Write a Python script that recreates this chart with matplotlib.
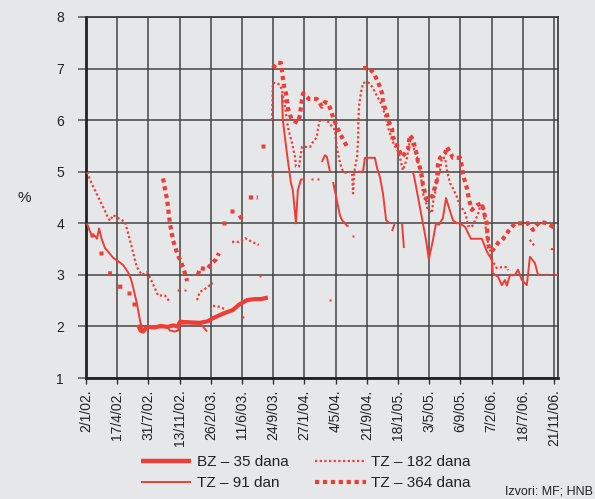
import numpy as np
import matplotlib
matplotlib.use('Agg')
import matplotlib.pyplot as plt
from matplotlib.lines import Line2D

plt.rcParams['font.family'] = ['Liberation Sans', 'DejaVu Sans']

nan = np.nan

tick_labels = ['2/1/02.', '17/4/02.', '31/7/02.', '13/11/02.', '26/2/03.', '11/6/03.',
               '24/9/03.', '27/1/04.', '4/5/04.', '21/9/04.', '18/1/05.', '3/5/05.',
               '6/9/05.', '7/2/06.', '18/7/06.', '21/11/06.']
y_ticks = [1, 2, 3, 4, 5, 6, 7, 8]
series_names = ['BZ \u2013 35 dana', 'TZ \u2013 91 dan', 'TZ \u2013 182 dana', 'TZ \u2013 364 dana']

# x positions are in units of the (equally spaced) label intervals
bz_x = [1.67, 1.75, 1.83, 1.92, 2.00, 2.20, 2.40, 2.60, 2.80, 2.95, 3.01, 3.30, 3.65, 3.90,
        4.07, 4.40, 4.71, 4.90, 5.16, 5.40, 5.60, 5.83]
bz_y = [2.03, 1.92, 1.90, 1.97, 1.99, 1.98, 2.01, 1.99, 2.02, 2.00, 2.09, 2.08, 2.07, 2.10,
        2.16, 2.25, 2.32, 2.42, 2.51, 2.53, 2.53, 2.56]

tz91_x = [0.03, 0.12, 0.19, 0.30, 0.35, 0.42, 0.50, 0.61, 0.71, 0.87,
          1.00, 1.19, 1.35, 1.45, 1.51, 1.63, 1.73, 1.83, 1.95, 2.10,
          2.40, 2.60, 2.69, 2.85, 2.95, 3.01, 3.30, 3.65, 3.75, 3.88, nan,
          6.28, 6.31, 6.44, 6.57, 6.63, 6.73, 6.79, 6.89, 7.02, nan, 7.24, nan, 7.44, nan,
          7.56, 7.66, 7.72, 7.82, nan,
          7.92, 8.04, 8.14, 8.21, 8.37, 8.42, nan,
          8.72, 8.88, 8.94, 9.26, 9.33, 9.42, 9.52, 9.62, 9.74, nan, 9.81, 9.90, nan, 10.13, 10.19, nan,
          10.48, 10.54, 10.80, 10.90, 10.99, 11.12, 11.22, 11.31, 11.44, 11.54,
          11.76, 11.89, 11.99, 12.05, 12.15, 12.34, 12.69,
          12.85, 13.01, 13.04, 13.21, 13.33, 13.43, 13.49, 13.59, 13.75, 13.85,
          13.97, 14.13, 14.23, 14.39, 14.49, 14.62, nan, 14.72, 14.82, nan, 15.00, 15.13]
tz91_y = [4.00, 3.85, 3.77, 3.75, 3.70, 3.90, 3.70, 3.52, 3.45, 3.33,
          3.28, 3.19, 3.05, 2.90, 2.76, 2.45, 2.12, 1.90, 1.95, 2.00,
          1.98, 2.00, 1.92, 1.90, 1.92, 2.05, 2.06, 2.05, 2.00, 1.90, nan,
          6.50, 6.00, 5.36, 4.78, 4.64, 4.00, 4.64, 4.85, 4.85, nan, 4.85, nan, 4.85, nan,
          5.19, 5.32, 5.29, 5.00, nan,
          4.80, 4.45, 4.15, 4.06, 3.95, 3.95, nan,
          5.00, 5.00, 5.27, 5.27, 5.07, 4.90, 4.58, 4.06, 4.00, nan, 3.85, 4.00, nan, 4.00, 3.52, nan,
          5.00, 4.84, 4.00, 3.67, 3.30, 3.67, 4.00, 3.97, 4.10, 4.49,
          4.06, 4.00, 4.00, 3.97, 3.93, 3.70, 3.70,
          3.45, 3.29, 3.03, 2.96, 2.80, 2.90, 2.79, 3.00, 3.00, 3.10,
          2.90, 2.80, 3.35, 3.23, 3.00, 3.00, nan, 3.00, 3.00, nan, 3.00, 3.00]

tz182_x = [0.03, 0.20, 0.40, 0.60, 0.71, 0.77, 0.87, 1.03, 1.15, 1.25, 1.41, 1.63, 1.79, 1.96,
           2.12, 2.31, 2.53, 2.69, nan,
           2.95, nan, 3.17, nan, 3.56, 3.65, 3.75, 3.97, 4.07, nan, 4.07, 4.29, 4.46, nan, 5.03, nan,
           4.68, 4.90, 5.10, 5.32, 5.54, nan, 5.58, nan, 5.96, nan,
           5.96, 5.99, 6.12, 6.22, 6.28, 6.38, 6.47, 6.60, 6.70, 6.73, 6.83, 6.89, 6.92, 7.08,
           7.18, 7.28, 7.40, 7.44, 7.50, 7.66, 7.76, 7.98, 8.04, 8.14, 8.24, 8.37, 8.46, 8.53,
           8.56, 8.60, 8.69, 8.72, 8.73, 8.75, 8.81, 8.88, 9.01, 9.07, 9.17, 9.26, 9.36, 9.49,
           9.58, 9.68, 9.81, 9.90, 10.03, 10.13, 10.16, 10.22, 10.29, 10.38, 10.45, 10.61, 10.71,
           10.77, 10.80, 10.90, 10.96, 11.09, 11.12, 11.19, 11.25, 11.35, 11.41, 11.51, 11.57,
           11.67, 11.76, 11.89, 11.99, 12.08, 12.15, 12.21, 12.24, 12.37, 12.47, 12.56, 12.63,
           12.72, 12.85, 12.95, 13.01, 13.17, 13.33, 13.49, 13.53, nan,
           14.23, 14.29, 14.42, nan, 14.90, 15.03, nan, 7.82, nan, 8.56]
tz182_y = [4.99, 4.75, 4.50, 4.25, 4.10, 4.05, 4.16, 4.10, 4.06, 4.03, 3.67, 3.15, 3.00, 3.05,
           2.86, 2.60, 2.60, 2.47, nan,
           2.70, nan, 2.70, nan, 2.51, 2.67, 2.70, 2.80, 2.84, nan, 2.40, 2.38, 2.33, nan, 2.18, nan,
           3.64, 3.64, 3.71, 3.64, 3.58, nan, 2.98, nan, 4.94, nan,
           6.00, 6.72, 6.72, 6.68, 6.58, 6.26, 5.87, 5.56, 5.29, 5.10, 5.10, 5.36, 5.48, 5.48,
           5.48, 5.58, 5.67, 5.85, 6.00, 6.00, 5.97, 5.81, 5.48, 5.17, 5.00, 4.97, 5.00, 4.97,
           4.58, 5.00, 5.29, 5.61, 5.94, 6.26, 6.52, 6.72, 6.74, 6.72, 6.65, 6.55, 6.43, 6.29,
           6.10, 5.87, 5.61, 5.50, 5.36, 5.10, 5.03, 5.13, 5.27, 5.61, 5.55, 5.29, 4.97,
           4.78, 4.58, 4.39, 4.26, 4.20, 4.39, 4.58, 4.84, 5.03, 5.27, 5.27, 5.03,
           4.78, 4.68, 4.51, 4.33, 4.27, 4.20, 4.08, 3.95, 3.93, 4.06, 4.16, 4.33,
           4.35, 3.73, 3.48, 3.29, 3.13, 3.15, 3.15, 3.09, nan,
           3.68, 3.62, 3.54, nan, 3.50, 3.50, nan, 2.51, nan, 3.75]

tz364_x = [0.19, nan, 0.48, nan, 0.71, 0.83, nan, 1.03, 1.19, nan, 1.38, nan, 1.54, nan,
           2.47, 2.60, 2.69, 2.79, 2.92, 3.11, 3.21, 3.24, nan, 3.59, 3.65, 3.88, 4.04, 4.17, 4.26, nan,
           4.42, nan, 4.68, nan, 4.90, 5.03, nan, 5.22, 5.51, nan, 5.67, nan,
           5.99, 6.12, 6.25, 6.28, 6.31, 6.35, 6.41, 6.44, 6.47, 6.54,
           6.60, 6.79, 6.86, 6.89, 6.92, 6.96, 7.15, 7.40, 7.50, 7.56,
           7.66, 7.76, 7.82, 7.95, 8.04, 8.14, 8.24, 8.37, nan,
           8.88, 9.07, 9.23, 9.42, 9.49, 9.52, 9.58, 9.65, 9.71, 9.81,
           9.84, 9.94, 10.00, 10.13, 10.32, 10.38, 10.48, 10.54, 10.61, 10.64,
           10.71, 10.77, 10.80, 10.87, 10.93, 11.09, 11.19, 11.25, 11.28, 11.35,
           11.51, 11.57, 11.67, 11.76, 11.99, 12.05, 12.08, 12.15, 12.21, 12.28,
           12.37, 12.53, 12.69, 12.76, 12.85, 12.88, 12.92, 13.04, 13.21, 13.37,
           13.53, 13.75, 13.97, 14.17, 14.33, 14.39, 14.55, 14.78, 14.97, 15.13]
tz364_y = [3.77, nan, 3.42, nan, 3.03, 3.03, nan, 2.77, 2.77, nan, 2.65, nan, 2.44, nan,
           4.87, 4.45, 4.00, 3.67, 3.42, 3.15, 2.95, 2.88, nan, 3.00, 3.13, 3.11, 3.23, 3.30, 3.42, nan,
           4.00, nan, 4.24, nan, 4.10, 4.14, nan, 4.50, 4.50, nan, 5.50, nan,
           7.01, 7.11, 7.11, 6.96, 6.82, 6.66, 6.52, 6.39, 6.24, 6.10,
           6.00, 5.95, 6.10, 6.26, 6.39, 6.52, 6.41, 6.41, 6.33, 6.26,
           6.35, 6.33, 6.24, 6.00, 5.88, 5.74, 5.63, 5.48, nan,
           7.01, 7.01, 6.91, 6.65, 6.52, 6.35, 6.24, 6.10, 5.97, 5.83,
           5.67, 5.56, 5.46, 5.29, 5.42, 5.71, 5.63, 5.48, 5.32, 5.19,
           5.07, 4.90, 4.74, 4.58, 4.45, 4.52, 4.71, 4.84, 5.13, 5.27,
           5.36, 5.48, 5.38, 5.27, 5.27, 5.10, 4.97, 4.80, 4.68, 4.45,
           4.26, 4.35, 4.39, 4.20, 4.00, 3.71, 3.48, 3.48, 3.62, 3.70,
           3.84, 4.00, 4.00, 4.00, 3.87, 3.93, 4.03, 4.00, 3.93, 3.93]

RED = '#ee3d36'
BG = '#e6e7e9'
GRID = '#454545'

fig = plt.figure(figsize=(5.95, 4.99), dpi=100, facecolor=BG)
ax = fig.add_axes([86 / 595, 1 - 378 / 499, (558 - 86) / 595, (378 - 17) / 499])
ax.set_facecolor(BG)

styles = [
    dict(color=RED, lw=3.0, linestyle='-', solid_capstyle='butt'),
    dict(color=RED, lw=1.4, linestyle='-', solid_capstyle='butt'),
    dict(color=RED, lw=1.6, linestyle=(0, (1, 1.1)), dash_capstyle='butt'),
    dict(color=RED, lw=3.0, linestyle=(0, (1, 0.9)), dash_capstyle='butt'),
]
marker_sizes = [2.5, 1.5, 1.7, 2.8]
data = [(bz_x, bz_y), (tz91_x, tz91_y), (tz182_x, tz182_y), (tz364_x, tz364_y)]

for (xs, ys), st, ms in zip(data, styles, marker_sizes):
    xs = np.array(xs, dtype=float)
    ys = np.array(ys, dtype=float)
    ax.plot(xs, ys, zorder=3, **st)
    # isolated observations (no neighbours) drawn as single dots
    fin = np.isfinite(ys)
    prev_ok = np.r_[False, fin[:-1]]
    next_ok = np.r_[fin[1:], False]
    single = fin & ~prev_ok & ~next_ok
    ax.plot(xs[single], ys[single], linestyle='none', marker='s', ms=ms,
            color=RED, mec='none', zorder=3)

ax.set_xlim(0, 15.13)
ax.set_ylim(1, 8)
ax.set_xticks(np.arange(len(tick_labels)))
ax.set_xticklabels(tick_labels, rotation=90, fontsize=10, color='#222222')
ax.set_yticks(y_ticks)
ax.set_yticklabels([str(v) for v in y_ticks], fontsize=10, color='#222222')
ax.grid(True, color=GRID, lw=1.1, zorder=1)
ax.set_axisbelow(True)
ax.tick_params(axis='y', length=5.8, width=1.1, color='#555555', pad=10)
ax.tick_params(axis='x', length=4.3, width=1.0, color='#333333', pad=4)
for side in ['left', 'bottom']:
    ax.spines[side].set_linewidth(2.0)
    ax.spines[side].set_color('#222222')
for side in ['top', 'right']:
    ax.spines[side].set_linewidth(1.2)
    ax.spines[side].set_color('#333333')

fig.text(18 / 595, 1 - 198 / 499, '%', fontsize=11, color='#222222', va='center', ha='left')

handles = [Line2D([0], [0], **styles[0]), Line2D([0], [0], **styles[1]),
           Line2D([0], [0], **styles[2]), Line2D([0], [0], **styles[3])]
handles[0].set_linewidth(3.2)
fig.legend(handles, series_names, ncol=2, loc='upper left',
           bbox_to_anchor=(141 / 595, 1 - 455 / 499), frameon=False, fontsize=11,
           handlelength=3.3, handletextpad=0.35, columnspacing=1.75, labelspacing=0.45,
           borderpad=0, borderaxespad=0, labelcolor='#222222')

fig.text(505 / 595, 1 - 492 / 499, 'Izvori: MF; HNB', fontsize=9, color='#222222',
         ha='left', va='center')

fig.savefig('out.png', dpi=100, facecolor=BG)
